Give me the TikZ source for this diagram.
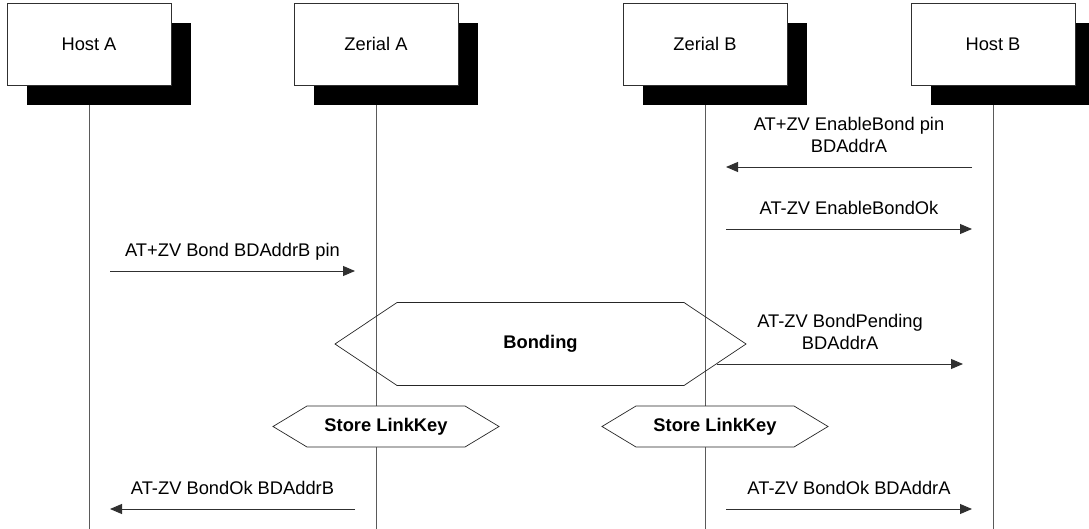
\documentclass[tikz,border=0pt]{standalone}
\usepackage{fontspec}
\setmainfont{Liberation Sans}
\usetikzlibrary{arrows.meta,positioning,calc}
\definecolor{lifegray}{HTML}{5A5A5A}
\definecolor{edgegray}{HTML}{303030}
\tikzset{
  actor/.style={rectangle,draw=edgegray,fill=white,line width=0.8pt,minimum width=164pt,minimum height=82pt,inner sep=0pt},
  actorshadow/.style={rectangle,fill=black,minimum width=164pt,minimum height=82pt,inner sep=0pt},
  lifeline/.style={draw=lifegray,line width=0.9pt},
  msg/.style={-{Triangle[length=12pt,width=10pt]},draw=edgegray,line width=0.9pt,shorten >=21pt,shorten <=21pt},
  msglabel/.style={above=14.5pt,inner sep=0pt,text depth=0pt,align=center},
  hexline/.style={draw=black!85,line width=0.7pt},
  action/.style={font=\fontsize{18.3}{22}\selectfont\bfseries,inner sep=0pt}
}

\begin{document}
\begin{tikzpicture}[x=1pt,y=-1pt,font=\fontsize{18.3}{22}\selectfont]
  \useasboundingbox (0,0) rectangle (1089,529);
  % lifelines, shadows and heads
  \foreach \x/\name/\txt in {89/hostA/Host A,376/zerA/Zerial A,705/zerB/Zerial B,993/hostB/Host B}{
    \draw[lifeline] (\x,85) -- (\x,529);
    \node[actorshadow] at (\x+20,64) {};
    \node[actor] (\name) at (\x,44) {\txt};
  }

  % bonding between both zerials
  \draw[hexline] (335,344) -- ++(62,-41.5) -- ++(287,0) -- ++(62,41.5) -- ++(-62,41.5) -- ++(-287,0) -- cycle;
  \node[action] (bond) at (540.5,344) {Bonding};
  \draw[hexline,fill=white] (273,426.5) -- ++(34,-20.5) -- ++(158,0) -- ++(34,20.5) -- ++(-34,20.5) -- ++(-158,0) -- cycle;
  \node[action] (keyA) at (386,426.5) {Store LinkKey};
  \draw[hexline,fill=white] (602,426.5) -- ++(34,-20.5) -- ++(158,0) -- ++(34,20.5) -- ++(-34,20.5) -- ++(-158,0) -- cycle;
  \node[action] (keyB) at (715,426.5) {Store LinkKey};

  % messages
  \draw[msg] (hostB |- 0,167) -- node[midway,msglabel] {AT+ZV EnableBond pin\\BDAddrA} (zerB |- 0,167);
  \draw[msg] (zerB |- 0,229) -- node[midway,msglabel] {AT-ZV EnableBondOk} (hostB |- 0,229);
  \draw[msg] (hostA |- 0,271) -- node[midway,msglabel] {AT+ZV Bond BDAddrB pin} (zerA |- 0,271);
  \coordinate (pendstart) at (716.5,364);
  \draw[msg,shorten <=0pt,shorten >=30pt] (pendstart) -- node[pos=0.447,msglabel] {AT-ZV BondPending\\BDAddrA} (hostB |- pendstart);
  \draw[msg] (zerA |- 0,509) -- node[midway,msglabel] {AT-ZV BondOk BDAddrB} (hostA |- 0,509);
  \draw[msg] (zerB |- 0,509) -- node[midway,msglabel] {AT-ZV BondOk BDAddrA} (hostB |- 0,509);
\end{tikzpicture}
\end{document}
